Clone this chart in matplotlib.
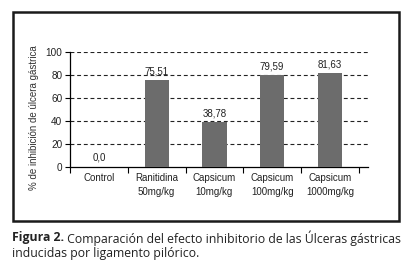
import numpy as np
import matplotlib
matplotlib.use("Agg")
import matplotlib.pyplot as plt
from matplotlib.patches import Rectangle

categorias = ["Control", "Ranitidina\n50mg/kg", "Capsicum\n10mg/kg", "Capsicum\n100mg/kg", "Capsicum\n1000mg/kg"]
inhibicion = [0.0, 75.51, 38.78, 79.59, 81.63]
etiquetas = ["0,0", "75,51", "38,78", "79,59", "81,63"]
yticks = [0, 20, 40, 60, 80, 100]
cap_bold = "Figura 2."
cap_1 = " Comparación del efecto inhibitorio de las Úlceras gástricas"
cap_2 = "inducidas por ligamento pilórico."

plt.rcParams['font.family'] = ['Liberation Sans', 'DejaVu Sans']

fig = plt.figure(figsize=(4.16, 2.67), dpi=100)
fig.patch.set_facecolor('white')

# outer frame
fig.patches.append(Rectangle((13/416, 1-221/267), 386/416, 209/267, transform=fig.transFigure,
                             fill=False, edgecolor='#1a1a1a', linewidth=1.8))

ax = fig.add_axes([70/416, 1-167/267, 298/416, 115/267])
x = np.arange(len(categorias))
ax.bar(x, inhibicion, width=0.42, color='#6c6c6c', zorder=3)
for xi, v, t in zip(x, inhibicion, etiquetas):
    ax.text(xi, v + 3.5, t, ha='center', va='bottom', fontsize=7, color='#222222', zorder=4)

ax.set_ylim(0, 100)
ax.set_xlim(-0.5, 4.66)
ax.set_yticks(yticks)
ax.set_yticklabels([str(t) for t in yticks], fontsize=7.2, color='#222222')
for t in yticks[1:]:
    ax.axhline(t, color='#222222', linestyle=(0, (3.5, 2.5)), linewidth=0.8, zorder=1)

ax.set_xticks(np.arange(-0.5, 5, 1.0))
ax.set_xticklabels([])
ax.set_xticks(x, minor=True)
ax.set_xticklabels(categorias, minor=True, fontsize=7, color='#222222', linespacing=1.5)
ax.tick_params(axis='x', which='minor', length=0, pad=4.5)
ax.tick_params(axis='x', which='major', length=4, width=0.8, direction='out')
ax.tick_params(axis='y', length=3.5, width=0.8, pad=2)

for s in ['top', 'right']:
    ax.spines[s].set_visible(False)
ax.spines['left'].set_linewidth(0.9)
ax.spines['bottom'].set_linewidth(0.9)

ax.set_ylabel("% de inhibición de úlcera gástrica", fontsize=7, color='#333333')
ax.yaxis.set_label_coords(-0.105, 0.43)

# caption: bold part then regular part, sized to fill the width
capfont = ['Open Sans', 'DejaVu Sans']
fs = 8.0
r = fig.canvas.get_renderer()
tb = fig.text(12/416, 1-238/267, cap_bold, fontsize=fs, fontweight='bold', va='center',
              color='#222222', family=capfont)
t1 = fig.text(0, 1-238/267, cap_1, fontsize=fs, va='center', color='#222222', family=capfont)
wb = tb.get_window_extent(r).width
w1 = t1.get_window_extent(r).width
fs = fs * 391 / (wb + w1)
tb.set_fontsize(fs)
t1.set_fontsize(fs)
wb = tb.get_window_extent(r).width
t1.set_x((12 + wb) / 416)
fig.text(12/416, 1-253/267, cap_2, fontsize=fs, va='center', color='#222222', family=capfont)

fig.savefig("out.png", dpi=100)
